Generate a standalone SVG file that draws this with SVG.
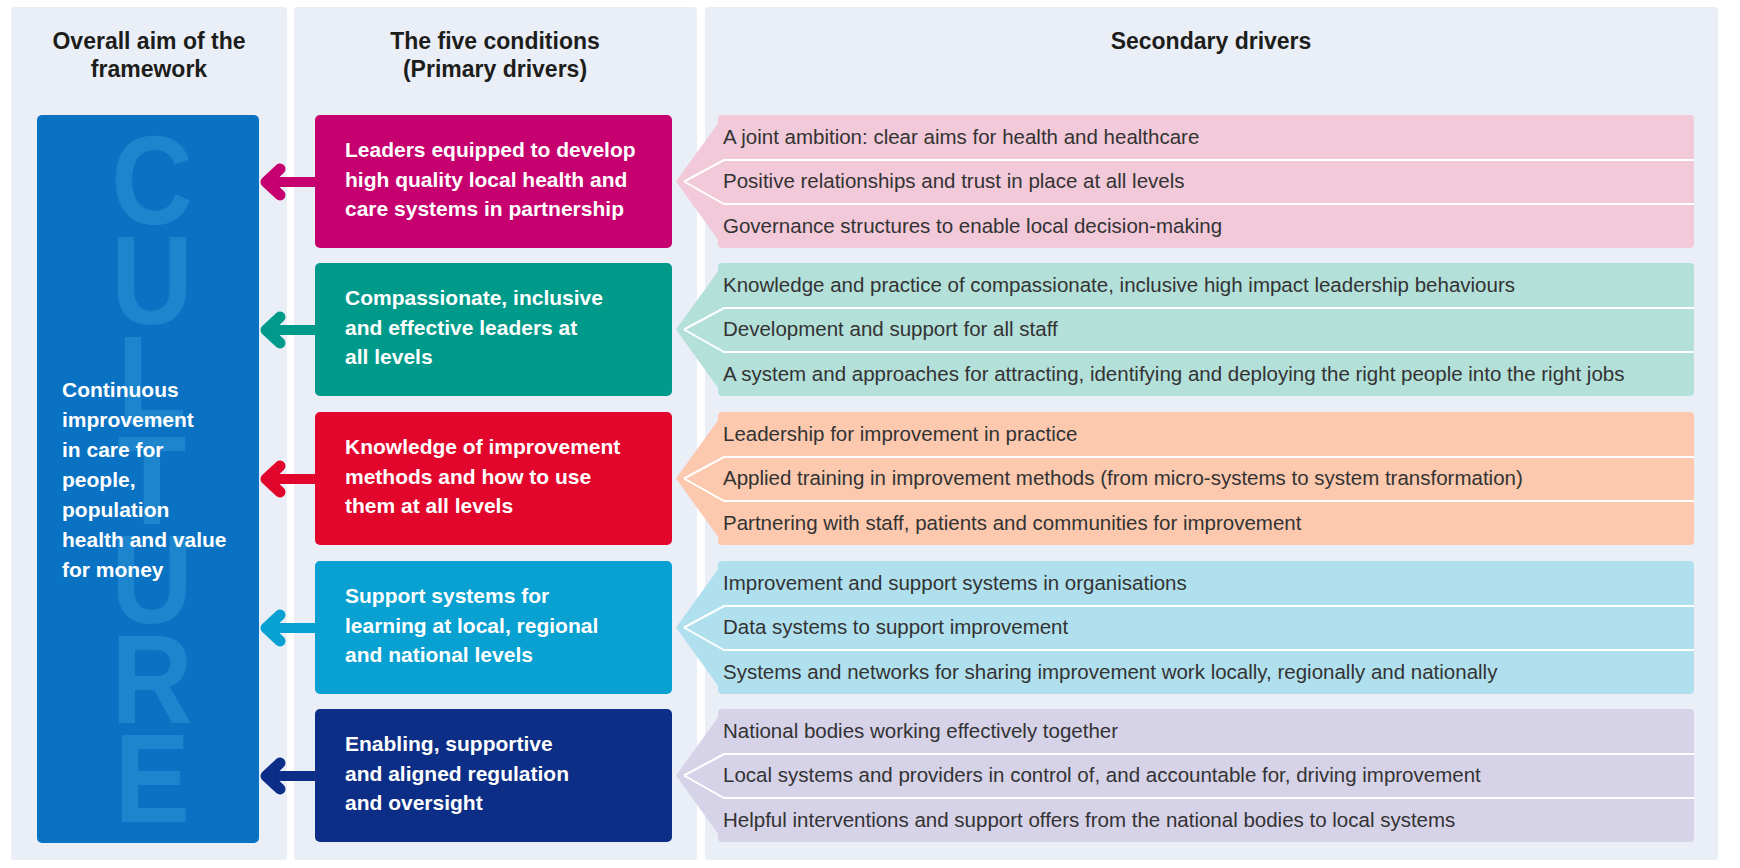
<svg xmlns="http://www.w3.org/2000/svg" width="1740" height="868" viewBox="0 0 1740 868">
<style>
.hdr{font-family:"Liberation Sans",Arial,sans-serif;font-weight:bold;font-size:23px;fill:#1d1d1b;text-anchor:middle}
.prim{font-family:"Liberation Sans",Arial,sans-serif;font-weight:bold;font-size:21px;fill:#ffffff}
.sec{font-family:"Liberation Sans",Arial,sans-serif;font-size:20.5px;fill:#333333}
.big{font-family:"Liberation Sans",Arial,sans-serif;font-weight:bold;font-size:126px;fill:#1d85cd;text-anchor:middle}
.panel{fill:#eaeff7}
.sep{fill:none;stroke:#ffffff;stroke-width:2}
.shaft{fill:none;stroke-width:10}
.head{fill:none;stroke-width:11;stroke-linecap:round;stroke-linejoin:round}
</style>
<rect x="0" y="0" width="1740" height="868" fill="#ffffff"/>
<g id="panels">
<rect class="panel" x="11" y="7" width="276" height="853" rx="3"/>
<rect class="panel" x="294" y="7" width="403" height="853" rx="3"/>
<rect class="panel" x="705" y="7" width="1013" height="853" rx="3"/>
<text class="hdr" x="149" y="49">Overall aim of the</text>
<text class="hdr" x="149" y="77">framework</text>
<text class="hdr" x="495" y="49">The five conditions</text>
<text class="hdr" x="495" y="77">(Primary drivers)</text>
<text class="hdr" x="1211" y="49">Secondary drivers</text>
</g>
<g id="aim">
<rect x="37" y="115" width="222" height="728" rx="5" fill="#0a72c3"/>
<text class="big" transform="translate(152 224) scale(0.9 1)">C</text>
<text class="big" transform="translate(152 324) scale(0.9 1)">U</text>
<text class="big" transform="translate(152 424) scale(0.9 1)">L</text>
<text class="big" transform="translate(152 524) scale(0.9 1)">T</text>
<text class="big" transform="translate(152 623) scale(0.9 1)">U</text>
<text class="big" transform="translate(152 723) scale(0.9 1)">R</text>
<text class="big" transform="translate(152 822) scale(0.9 1)">E</text>
<text class="prim" x="62" y="397">Continuous</text>
<text class="prim" x="62" y="427">improvement</text>
<text class="prim" x="62" y="457">in care for</text>
<text class="prim" x="62" y="487">people,</text>
<text class="prim" x="62" y="517">population</text>
<text class="prim" x="62" y="547">health and value</text>
<text class="prim" x="62" y="577">for money</text>
</g>
<g id="condition-1">
<rect x="315" y="115" width="357" height="133" rx="5" fill="#c6006f"/>
<text class="prim" x="345" y="157">Leaders equipped to develop</text>
<text class="prim" x="345" y="186.5">high quality local health and</text>
<text class="prim" x="345" y="216">care systems in partnership</text>
</g>
<g id="condition-2">
<rect x="315" y="263" width="357" height="133" rx="5" fill="#009a8b"/>
<text class="prim" x="345" y="305">Compassionate, inclusive</text>
<text class="prim" x="345" y="334.5">and effective leaders at</text>
<text class="prim" x="345" y="364">all levels</text>
</g>
<g id="condition-3">
<rect x="315" y="412" width="357" height="133" rx="5" fill="#e3062c"/>
<text class="prim" x="345" y="454">Knowledge of improvement</text>
<text class="prim" x="345" y="483.5">methods and how to use</text>
<text class="prim" x="345" y="513">them at all levels</text>
</g>
<g id="condition-4">
<rect x="315" y="561" width="357" height="133" rx="5" fill="#08a1d1"/>
<text class="prim" x="345" y="603">Support systems for</text>
<text class="prim" x="345" y="632.5">learning at local, regional</text>
<text class="prim" x="345" y="662">and national levels</text>
</g>
<g id="condition-5">
<rect x="315" y="709" width="357" height="133" rx="5" fill="#0c2e86"/>
<text class="prim" x="345" y="751">Enabling, supportive</text>
<text class="prim" x="345" y="780.5">and aligned regulation</text>
<text class="prim" x="345" y="810">and oversight</text>
</g>
<g id="drivers-1">
<rect x="718" y="115" width="976" height="133" rx="4" fill="#f2c9d9"/>
<polygon points="676,181.5 724,115 724,248" fill="#f2c9d9"/>
<polyline class="sep" points="684,181.5 724,160 1694,160"/>
<polyline class="sep" points="684,181.5 724,204 1694,204"/>
<text class="sec" x="723" y="143.5">A joint ambition: clear aims for health and healthcare</text>
<text class="sec" x="723" y="188">Positive relationships and trust in place at all levels</text>
<text class="sec" x="723" y="232.5">Governance structures to enable local decision-making</text>
</g>
<g id="drivers-2">
<rect x="718" y="263" width="976" height="133" rx="4" fill="#b3e0d9"/>
<polygon points="676,329.5 724,263 724,396" fill="#b3e0d9"/>
<polyline class="sep" points="684,329.5 724,308 1694,308"/>
<polyline class="sep" points="684,329.5 724,352 1694,352"/>
<text class="sec" x="723" y="291.5">Knowledge and practice of compassionate, inclusive high impact leadership behaviours</text>
<text class="sec" x="723" y="336">Development and support for all staff</text>
<text class="sec" x="723" y="380.5">A system and approaches for attracting, identifying and deploying the right people into the right jobs</text>
</g>
<g id="drivers-3">
<rect x="718" y="412" width="976" height="133" rx="4" fill="#fcc9ae"/>
<polygon points="676,478.5 724,412 724,545" fill="#fcc9ae"/>
<polyline class="sep" points="684,478.5 724,457 1694,457"/>
<polyline class="sep" points="684,478.5 724,501 1694,501"/>
<text class="sec" x="723" y="440.5">Leadership for improvement in practice</text>
<text class="sec" x="723" y="485">Applied training in improvement methods (from micro-systems to system transformation)</text>
<text class="sec" x="723" y="529.5">Partnering with staff, patients and communities for improvement</text>
</g>
<g id="drivers-4">
<rect x="718" y="561" width="976" height="133" rx="4" fill="#b0e0ee"/>
<polygon points="676,627.5 724,561 724,694" fill="#b0e0ee"/>
<polyline class="sep" points="684,627.5 724,606 1694,606"/>
<polyline class="sep" points="684,627.5 724,650 1694,650"/>
<text class="sec" x="723" y="589.5">Improvement and support systems in organisations</text>
<text class="sec" x="723" y="634">Data systems to support improvement</text>
<text class="sec" x="723" y="678.5">Systems and networks for sharing improvement work locally, regionally and nationally</text>
</g>
<g id="drivers-5">
<rect x="718" y="709" width="976" height="133" rx="4" fill="#d6d2e8"/>
<polygon points="676,775.5 724,709 724,842" fill="#d6d2e8"/>
<polyline class="sep" points="684,775.5 724,754 1694,754"/>
<polyline class="sep" points="684,775.5 724,798 1694,798"/>
<text class="sec" x="723" y="737.5">National bodies working effectively together</text>
<text class="sec" x="723" y="782">Local systems and providers in control of, and accountable for, driving improvement</text>
<text class="sec" x="723" y="826.5">Helpful interventions and support offers from the national bodies to local systems</text>
</g>
<g id="connectors">
<path class="shaft" stroke="#c6006f" d="M316 182H272"/>
<path class="head" stroke="#c6006f" d="M280 169L266 182L280 195"/>
<path class="shaft" stroke="#009a8b" d="M316 330H272"/>
<path class="head" stroke="#009a8b" d="M280 317L266 330L280 343"/>
<path class="shaft" stroke="#e3062c" d="M316 479H272"/>
<path class="head" stroke="#e3062c" d="M280 466L266 479L280 492"/>
<path class="shaft" stroke="#08a1d1" d="M316 628H272"/>
<path class="head" stroke="#08a1d1" d="M280 615L266 628L280 641"/>
<path class="shaft" stroke="#0c2e86" d="M316 776H272"/>
<path class="head" stroke="#0c2e86" d="M280 763L266 776L280 789"/>
</g>
</svg>
